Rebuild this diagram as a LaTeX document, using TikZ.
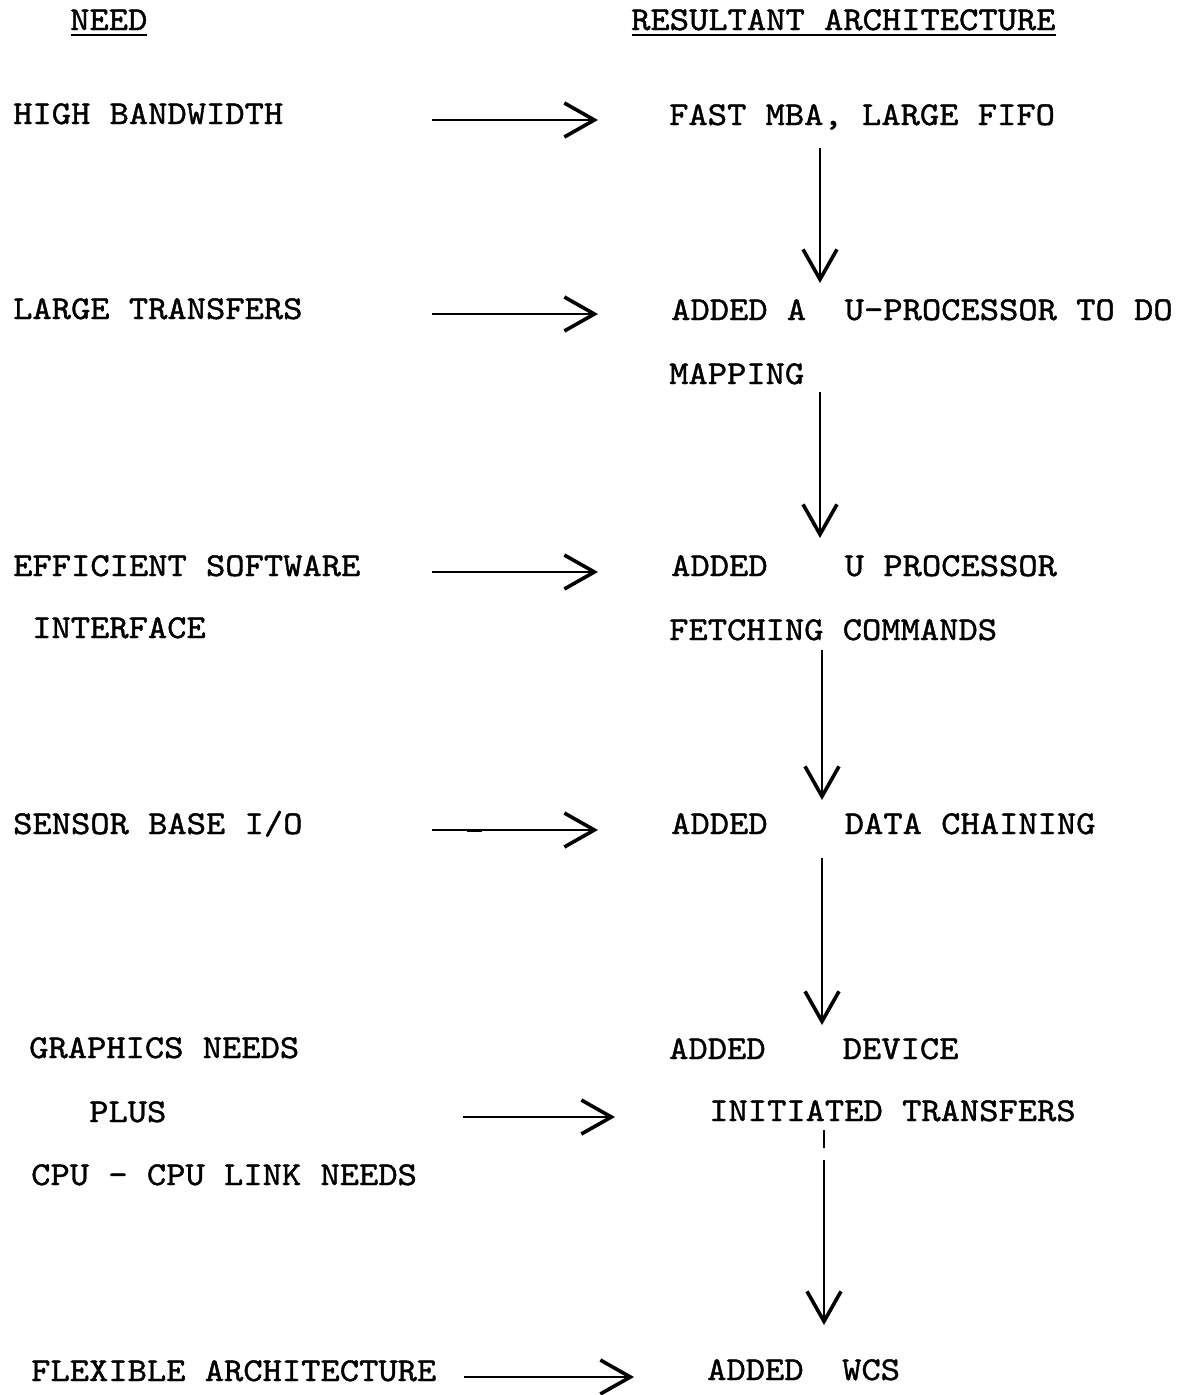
\documentclass[tikz,border=0pt]{standalone}
\usepackage{fontspec}
\newfontfamily\tw{lmmono10-regular}[Extension=.otf, FakeStretch=1.1, FakeBold=1.2]
\usetikzlibrary{arrows.meta}
\begin{document}
\begin{tikzpicture}[x=1pt,y=-1pt,
  txt/.style={anchor=base west, inner sep=0pt, font=\tw\fontsize{33.4}{33.4}\selectfont},
  conn/.style={line width=1.6pt, -{Straight Barb[length=30pt,width=34pt,line width=3.6pt]}},
  rule/.style={line width=2pt}]
\useasboundingbox[fill=white] (0,0) rectangle (1182,1395);
% headings
\node[txt] (need) at (70,30) {NEED};
\node[txt] (res) at (631,30) {RESULTANT ARCHITECTURE};
\draw[rule] (need.base west) ++(1,5) -- ++(76,0);
\draw[rule] (res.base west) ++(1,5) -- ++(424,0);
% left column
\node[txt] (n1) at (13,124) {HIGH BANDWIDTH};
\node[txt] (n2) at (13,319) {LARGE TRANSFERS};
\node[txt] (n3) at (13,576) {EFFICIENT SOFTWARE};
\node[txt] (n3b) at (32,638) {INTERFACE};
\node[txt] (n4) at (13,834) {SENSOR BASE I/O};
\node[txt] (n5) at (29,1058) {GRAPHICS NEEDS};
\node[txt] (n5b) at (89,1122) {PLUS};
\node[txt] (n5c) at (31,1185) {CPU - CPU LINK NEEDS};
\node[txt] (n6) at (31,1381) {FLEXIBLE ARCHITECTURE};
% right column
\node[txt] (r1) at (669,125) {FAST MBA, LARGE FIFO};
\node[txt] (r2) at (671,320) {ADDED A\ \ U-PROCESSOR TO DO};
\node[txt] (r2b) at (669,384) {MAPPING};
\node[txt] (r3) at (671,576) {ADDED\ \ \ \ U PROCESSOR};
\node[txt] (r3b) at (669,640) {FETCHING COMMANDS};
\node[txt] (r4) at (671,834) {ADDED\ \ \ \ DATA CHAINING};
\node[txt] (r5) at (669,1059) {ADDED\ \ \ \ DEVICE};
\node[txt] (r5b) at (709,1121) {INITIATED TRANSFERS};
\node[txt] (r6) at (707,1380) {ADDED\ \ WCS};
% horizontal arrow end points
\coordinate (h1s) at (432,120); \coordinate (h1e) at (598,120);
\coordinate (h2s) at (432,314); \coordinate (h2e) at (598,314);
\coordinate (h3s) at (432,572); \coordinate (h3e) at (598,572);
\coordinate (h4s) at (432,830); \coordinate (h4e) at (598,830);
\coordinate (h5s) at (463,1117); \coordinate (h5e) at (615,1117);
\coordinate (h6s) at (464,1377); \coordinate (h6e) at (634,1377);
\foreach \i in {1,...,6} \draw[conn] (h\i s) -- (h\i e);
% small mark on arrow 4
\coordinate (m4a) at (467,831); \coordinate (m4b) at (482,831);
\draw[line width=2.6pt] (m4a) -- (m4b);
% vertical arrow end points
\coordinate (v1s) at (820,148);  \coordinate (v1e) at (820,283);
\coordinate (v2s) at (820,392);  \coordinate (v2e) at (820,538);
\coordinate (v3s) at (822,650);  \coordinate (v3e) at (822,800);
\coordinate (v4s) at (822,858);  \coordinate (v4e) at (822,1025);
\coordinate (v5s) at (824,1160); \coordinate (v5e) at (824,1325);
\foreach \i in {1,...,5} \draw[conn] (v\i s) -- (v\i e);
% small tick below INITIATED
\coordinate (t1) at (824,1130); \coordinate (t2) at (824,1148);
\draw[line width=1.6pt] (t1) -- (t2);
\end{tikzpicture}
\end{document}
